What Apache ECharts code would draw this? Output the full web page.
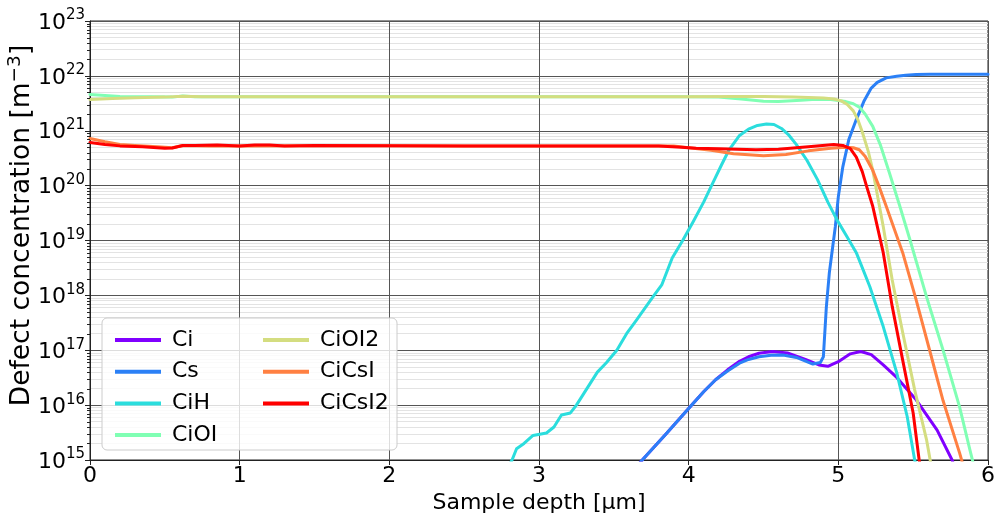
<!DOCTYPE html>
<html>
<head>
<meta charset="utf-8">
<script src="https://cdn.jsdelivr.net/npm/echarts@6/dist/echarts.min.js"></script>
<style>
  html, body { margin: 0; padding: 0; background: #ffffff; }
  #chart { width: 997px; height: 515px; }
</style>
</head>
<body>
<div id="chart"></div>
<script>
// Defect species and their line colours (rainbow map, 7 samples)
const speciesNames = ['Ci', 'Cs', 'CiH', 'CiOI', 'CiOI2', 'CiCsI', 'CiCsI2'];
const speciesColors = ['#8000ff', '#2b80f6', '#2bdddd', '#80ffb4', '#d4dd80', '#ff8042', '#ff0000'];

// Depth profiles: [depth (µm), concentration (m^-3)]
const Ci = [
  [3.66, 8e14], [3.69, 1.0e15], [3.85, 3.0e15], [4.01, 9.3e15], [4.10, 1.75e16],
  [4.18, 2.9e16], [4.26, 4.4e16], [4.34, 6.3e16], [4.40, 7.6e16], [4.47, 8.8e16],
  [4.56, 9.5e16], [4.66, 8.9e16], [4.78, 6.8e16], [4.87, 5.4e16], [4.93, 5.1e16],
  [5.0, 6.2e16], [5.08, 8.6e16], [5.15, 9.5e16], [5.22, 8.3e16], [5.30, 5.4e16],
  [5.39, 3.2e16], [5.52, 1.25e16], [5.66, 3.5e15], [5.76, 1.0e15], [5.78, 7e14]
];
const Cs = [
  [3.66, 8e14], [3.69, 1.0e15], [3.85, 3.0e15], [4.01, 9.3e15], [4.10, 1.75e16],
  [4.18, 2.9e16], [4.26, 4.2e16], [4.34, 5.8e16], [4.40, 6.8e16], [4.47, 7.6e16],
  [4.55, 8.1e16], [4.63, 8.2e16], [4.72, 7.4e16], [4.83, 5.6e16], [4.88, 6.0e16],
  [4.90, 7.6e16], [4.92, 6.2e17], [4.94, 2.6e18], [4.98, 1.8e19], [5.00, 6.3e19],
  [5.03, 2.2e20], [5.07, 6.9e20], [5.12, 1.6e21], [5.17, 3.4e21], [5.22, 6.0e21],
  [5.26, 7.6e21], [5.32, 9.2e21], [5.39, 9.8e21], [5.45, 1.03e22], [5.52, 1.06e22],
  [5.61, 1.07e22], [6.0, 1.07e22]
];
const CiH = [
  [2.80, 8e14], [2.82, 1.0e15], [2.85, 1.6e15], [2.90, 2.0e15], [2.96, 2.8e15],
  [3.05, 3.1e15], [3.10, 4.0e15], [3.15, 6.6e15], [3.21, 7.2e15], [3.25, 1.0e16],
  [3.32, 2.0e16], [3.39, 4.0e16], [3.45, 5.9e16], [3.52, 1.0e17], [3.59, 2.1e17],
  [3.65, 3.5e17], [3.76, 9.3e17], [3.82, 1.55e18], [3.89, 4.8e18], [3.96, 1.0e19],
  [4.03, 2.2e19], [4.10, 5.0e19], [4.16, 1.1e20], [4.22, 2.4e20], [4.27, 4.5e20],
  [4.34, 8.2e20], [4.40, 1.07e21], [4.46, 1.25e21], [4.52, 1.33e21], [4.57, 1.3e21],
  [4.62, 1.1e21], [4.67, 8.3e20], [4.72, 5.6e20], [4.79, 2.9e20], [4.86, 1.3e20],
  [4.93, 5.0e19], [4.99, 2.4e19], [5.06, 1.15e19], [5.12, 6.0e18], [5.21, 1.45e18],
  [5.30, 2.7e17], [5.39, 3.9e16], [5.46, 6.2e15], [5.51, 1.0e15], [5.53, 6e14]
];
const CiOI = [
  [0, 4.6e21], [0.1, 4.4e21], [0.2, 4.2e21], [0.4, 4.15e21], [0.55, 4.1e21],
  [0.62, 4.3e21], [0.7, 4.15e21], [1.0, 4.15e21], [1.5, 4.15e21], [2.0, 4.15e21],
  [2.5, 4.15e21], [3.0, 4.15e21], [3.5, 4.15e21], [4.0, 4.15e21], [4.2, 4.1e21],
  [4.35, 3.8e21], [4.5, 3.45e21], [4.6, 3.4e21], [4.75, 3.6e21], [4.85, 3.75e21],
  [4.95, 3.7e21], [5.05, 3.4e21], [5.10, 3.1e21], [5.14, 2.7e21], [5.18, 2.0e21],
  [5.23, 1.2e21], [5.28, 5.6e20], [5.34, 1.75e20], [5.41, 4.3e19], [5.48, 1.0e19],
  [5.59, 9.3e17], [5.70, 1.0e17], [5.81, 9.3e15], [5.88, 1.5e15], [5.91, 7e14]
];
const CiOI2 = [
  [0, 3.7e21], [0.15, 3.85e21], [0.3, 4.0e21], [0.5, 4.1e21], [0.62, 4.25e21],
  [0.75, 4.15e21], [1.0, 4.15e21], [1.5, 4.15e21], [2.0, 4.15e21], [2.5, 4.15e21],
  [3.0, 4.15e21], [3.5, 4.15e21], [4.0, 4.15e21], [4.3, 4.2e21], [4.5, 4.2e21],
  [4.7, 4.1e21], [4.9, 3.95e21], [4.97, 3.8e21], [5.02, 3.5e21], [5.06, 3.0e21],
  [5.10, 2.3e21], [5.13, 1.6e21], [5.16, 9.5e20], [5.20, 4.2e20], [5.23, 1.9e20],
  [5.30, 1.8e19], [5.36, 1.9e18], [5.43, 2.1e17], [5.51, 1.9e16], [5.59, 2.3e15],
  [5.62, 8e14]
];
const CiCsI = [
  [0, 7.2e20], [0.1, 6.3e20], [0.2, 5.6e20], [0.3, 5.4e20], [0.45, 5.1e20],
  [0.55, 4.9e20], [0.62, 5.4e20], [0.8, 5.3e20], [1.0, 5.3e20], [1.5, 5.35e20],
  [2.0, 5.35e20], [2.5, 5.3e20], [3.0, 5.3e20], [3.5, 5.3e20], [3.9, 5.3e20],
  [4.0, 4.9e20], [4.15, 4.4e20], [4.3, 3.8e20], [4.5, 3.5e20], [4.65, 3.7e20],
  [4.8, 4.3e20], [4.95, 4.8e20], [5.05, 5.0e20], [5.1, 4.9e20], [5.14, 4.5e20],
  [5.18, 3.4e20], [5.23, 1.9e20], [5.27, 1.0e20], [5.32, 4.2e19], [5.43, 6.0e18],
  [5.52, 8.3e17], [5.61, 1.0e17], [5.70, 1.2e16], [5.81, 1.35e15], [5.84, 7e14]
];
const CiCsI2 = [
  [0, 6.1e20], [0.1, 5.6e20], [0.2, 5.3e20], [0.35, 5.1e20], [0.5, 4.8e20],
  [0.55, 4.85e20], [0.62, 5.4e20], [0.7, 5.4e20], [0.85, 5.5e20], [1.0, 5.3e20],
  [1.1, 5.5e20], [1.2, 5.5e20], [1.3, 5.25e20], [1.5, 5.4e20], [2.0, 5.35e20],
  [2.5, 5.3e20], [3.0, 5.3e20], [3.5, 5.3e20], [3.8, 5.3e20], [3.95, 5.0e20],
  [4.05, 4.8e20], [4.2, 4.7e20], [4.45, 4.5e20], [4.6, 4.6e20], [4.8, 5.1e20],
  [4.97, 5.6e20], [5.03, 5.4e20], [5.08, 4.7e20], [5.12, 3.3e20], [5.16, 1.8e20],
  [5.19, 9.5e19], [5.23, 4.2e19], [5.30, 6.0e18], [5.36, 6.3e17], [5.43, 6.6e16],
  [5.50, 7.2e15], [5.54, 1.0e15], [5.56, 6e14]
];
const profiles = [Ci, Cs, CiH, CiOI, CiOI2, CiCsI, CiCsI2];

// Axis ranges
const depthMin = 0, depthMax = 6, depthStep = 1;
const concMin = 1e15, concMax = 1e23;
// Minor gridlines/ticks: 2..9 × each decade
const minorMultipliers = [2, 3, 4, 5, 6, 7, 8, 9];
const decadeExponents = [15, 16, 17, 18, 19, 20, 21, 22];

const FONT = 'DejaVu Sans';
const FS = 22;        // tick / legend / x-title size
const FS_SUP = 15;    // tick superscript size
const FS_YT = 26.5;   // y-title size
const FS_YT_SUP = 18.5;
const chart = echarts.init(document.getElementById('chart'), null, { renderer: 'canvas' });

const minorValues = [];
decadeExponents.forEach(e => minorMultipliers.forEach(m => minorValues.push(m * Math.pow(10, e))));

const gridBox = { left: 90, right: 9, top: 21, bottom: 55 };

const lineSeries = speciesNames.map((name, i) => ({
  name: name,
  type: 'line',
  data: profiles[i],
  showSymbol: false,
  symbol: 'none',
  clip: true,
  z: 3,
  lineStyle: { color: speciesColors[i], width: 3, cap: 'round', join: 'round' },
  itemStyle: { color: speciesColors[i] },
  emphasis: { disabled: true },
  animation: false
}));

// Light minor grid drawn through the y axis scale
const minorGridSeries = {
  name: 'minor-grid',
  type: 'line',
  data: [],
  z: 1,
  silent: true,
  animation: false,
  markLine: {
    z: 1,
    silent: true,
    symbol: ['none', 'none'],
    label: { show: false },
    animation: false,
    lineStyle: { color: '#e3e3e3', width: 1, type: 'solid' },
    emphasis: { disabled: true },
    data: minorValues.map(v => ({ yAxis: v }))
  }
};

const legendCommon = {
  orient: 'vertical',
  icon: 'rect',
  itemWidth: 46,
  itemHeight: 4,
  itemGap: 9.7,
  textStyle: { fontFamily: FONT, fontSize: FS, color: '#000', padding: [0, 0, 0, 6], lineHeight: 22 },
  selectedMode: false,
  z: 5
};

const supRich = (base, size, supSize, lh) => ({
  [base]: { fontFamily: FONT, fontSize: size, color: '#000', lineHeight: lh, verticalAlign: 'bottom' },
  s: { fontFamily: FONT, fontSize: supSize, color: '#000', lineHeight: lh, verticalAlign: 'top' }
});

const option = {
  animation: false,
  backgroundColor: '#ffffff',
  grid: Object.assign({
    show: true, borderColor: '#222', borderWidth: 1, backgroundColor: 'transparent',
    outerBoundsMode: 'none', containLabel: false
  }, gridBox),
  xAxis: {
    type: 'value',
    z: 2,
    min: depthMin, max: depthMax, interval: depthStep,
    name: 'Sample depth [µm]',
    nameLocation: 'middle',
    nameGap: 27,
    nameTextStyle: { fontFamily: FONT, fontSize: FS, color: '#000' },
    axisLine: { show: true, lineStyle: { color: '#222', width: 1 } },
    axisTick: { show: true, length: 5, lineStyle: { color: '#222' } },
    axisLabel: { fontFamily: FONT, fontSize: FS, color: '#000', margin: 5 },
    splitLine: { show: true, lineStyle: { color: '#555', width: 1 } }
  },
  yAxis: {
    type: 'log',
    z: 2,
    logBase: 10,
    min: concMin, max: concMax,
    name: '{t|Defect concentration [m}{s|−3}{t|]}',
    nameLocation: 'middle',
    nameRotate: 90,
    nameGap: 54,
    nameMoveOverlap: false,
    nameTextStyle: { rich: supRich('t', FS_YT, FS_YT_SUP, 30), padding: [0, 0, 0, 30] },
    axisLine: { show: true, lineStyle: { color: '#222', width: 1 } },
    axisTick: { show: true, length: 5, lineStyle: { color: '#222' } },
    axisLabel: {
      margin: 5,
      formatter: v => '{b|10}{s|' + Math.round(Math.log10(v)) + '}',
      rich: supRich('b', FS, FS_SUP, 26)
    },
    splitLine: { show: true, lineStyle: { color: '#555', width: 1 } }
  },
  legend: [
    Object.assign({}, legendCommon, { left: 110, top: 324, data: speciesNames.slice(0, 4) }),
    Object.assign({}, legendCommon, { left: 258, top: 324, data: speciesNames.slice(4) })
  ],
  graphic: [{
    type: 'rect',
    z: 4,
    silent: true,
    shape: { x: 102, y: 318, width: 295, height: 132, r: 5 },
    style: { fill: 'rgba(255,255,255,0.8)', stroke: '#cccccc', lineWidth: 1 }
  }],
  series: [minorGridSeries].concat(lineSeries)
};

chart.setOption(option);

// Short minor ticks on the left axis, positioned through the y scale
const minorTicks = minorValues.map(v => {
  const y = Math.round(chart.convertToPixel({ yAxisIndex: 0 }, v)) + 0.5;
  return {
    type: 'line',
    silent: true,
    z: 6,
    shape: { x1: gridBox.left - 3, y1: y, x2: gridBox.left, y2: y },
    style: { stroke: '#222', lineWidth: 1 }
  };
});
chart.setOption({ graphic: option.graphic.concat(minorTicks) });
</script>
</body>
</html>
